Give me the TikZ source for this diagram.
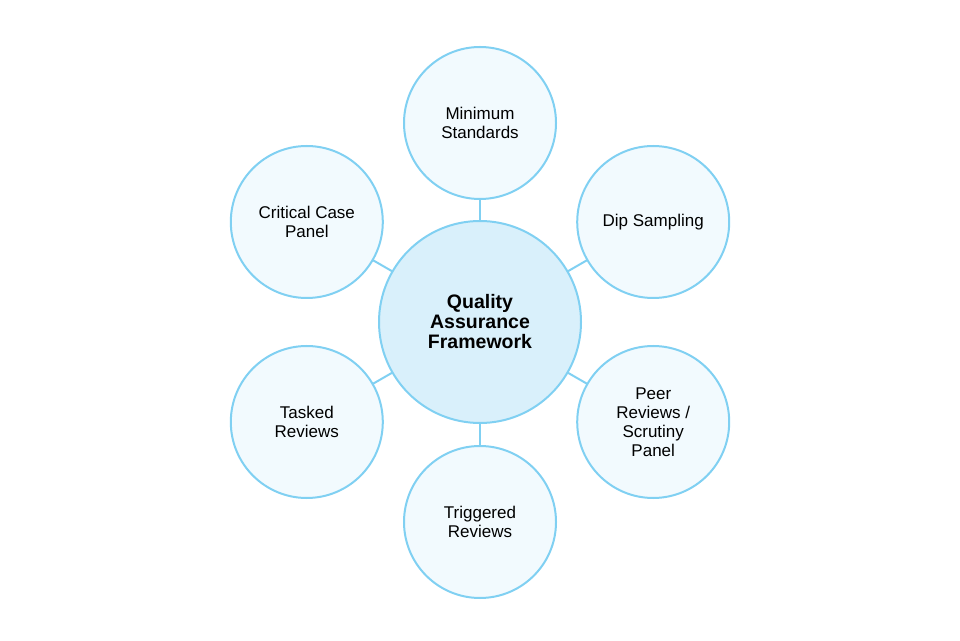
\documentclass[tikz,border=0pt]{standalone}
\usepackage{fontspec}
\setmainfont{Liberation Sans}
\usetikzlibrary{positioning,backgrounds}
\definecolor{ringblue}{HTML}{80D0F2}
\definecolor{hubfill}{HTML}{D9F0FB}
\definecolor{leaffill}{HTML}{F2FAFE}
\tikzset{
	hub/.style={circle, draw=ringblue, fill=hubfill, line width=2pt, inner sep=0pt, minimum size=202pt, align=center, font=\fontsize{19.5}{20}\selectfont\bfseries},
	leaf/.style={circle, draw=ringblue, fill=leaffill, line width=2pt, inner sep=0pt, minimum size=152pt, align=center, font=\fontsize{17}{19}\selectfont},
	spoke/.style={draw=ringblue, line width=2pt}
}

\begin{document}
\begin{tikzpicture}
			\useasboundingbox (0,0) rectangle (960pt,640pt);
			\node[hub] (qaf) at (480pt,318pt) {Quality\\Assurance\\Framework};
			
			\node[leaf] (minstd) at ([shift={(90:199pt)}]qaf.center) {Minimum\\Standards};
			\node[leaf] (dip) at ([shift={(30:200pt)}]qaf.center) {Dip Sampling};
			\node[leaf] (peer) at ([shift={(-30:200pt)}]qaf.center) {Peer\\Reviews /\\Scrutiny\\Panel};
			\node[leaf] (trig) at ([shift={(-90:200pt)}]qaf.center) {Triggered\\Reviews};
			\node[leaf] (tasked) at ([shift={(-150:200pt)}]qaf.center) {Tasked\\Reviews};
			\node[leaf] (crit) at ([shift={(150:200pt)}]qaf.center) {Critical Case\\Panel};
			
			\begin{scope}[on background layer]
				\foreach \n in {minstd,dip,peer,trig,tasked,crit} {
					\draw[spoke] (qaf.center) -- (\n.center);
				}
			\end{scope}
		\end{tikzpicture}
\end{document}
